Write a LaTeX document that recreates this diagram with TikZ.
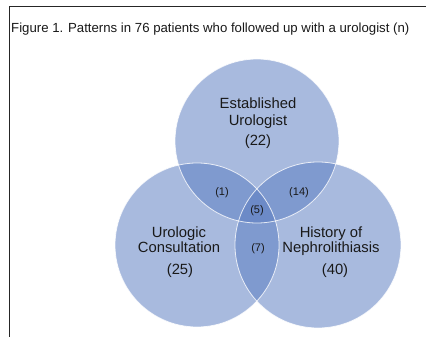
\documentclass[tikz,border=0pt]{standalone}
\usepackage{fontspec}
\setmainfont{Liberation Sans}
\definecolor{vblue}{RGB}{91,125,193}
\tikzset{
  vset/.style={fill=vblue, fill opacity=0.53, draw=none},
  vedge/.style={draw=white, line width=0.8pt, draw opacity=0.8},
  big/.style={font=\fontsize{14.8}{16}\selectfont, text=black!90, anchor=base, inner sep=0pt},
  small/.style={font=\fontsize{11}{12}\selectfont, text=black!90, anchor=base, inner sep=0pt},
  frame/.style={draw=black!85, line width=0.9pt}
}
\begin{document}
\begin{tikzpicture}[x=1pt,y=-1pt]
\useasboundingbox (0,0) rectangle (426,337);
\coordinate (tl) at (9,6);
\coordinate (tr) at (426,6);
\coordinate (bl) at (9,337);
\draw[frame] (tr) -- (tl) -- (bl);
\node[font=\fontsize{13.2}{14}\selectfont, anchor=base west, inner sep=0pt, text=black!90] (title) at (11,33) {Figure 1. Patterns in 76 patients who followed up with a urologist (n)};
% circles
\coordinate (ct) at (257,141);
\coordinate (cl) at (197,245);
\coordinate (cr) at (318,245);
\fill[vset] (ct) circle (82);
\fill[vset] (cl) circle (82);
\fill[vset] (cr) circle (83);
\draw[vedge] (ct) circle (82);
\draw[vedge] (cl) circle (82);
\draw[vedge] (cr) circle (83);
% labels
\node[big] (e1) at (258,109) {Established};
\node[big] (e2) at (258,125) {Urologist};
\node[big] (e3) at (258,146) {(22)};
\node[big] (u1) at (179,237) {Urologic};
\node[big] (u2) at (179,252) {Consultation};
\node[big] (u3) at (180,274) {(25)};
\node[big] (h1) at (331,237) {History of};
\node[big] (h2) at (331,252) {Nephrolithiasis};
\node[big] (h3) at (335,274) {(40)};
\node[small] (o1) at (222,195) {(1)};
\node[small] (o14) at (299,195) {(14)};
\node[small] (o5) at (257,213) {(5)};
\node[small] (o7) at (258,251) {(7)};
\end{tikzpicture}
\end{document}
